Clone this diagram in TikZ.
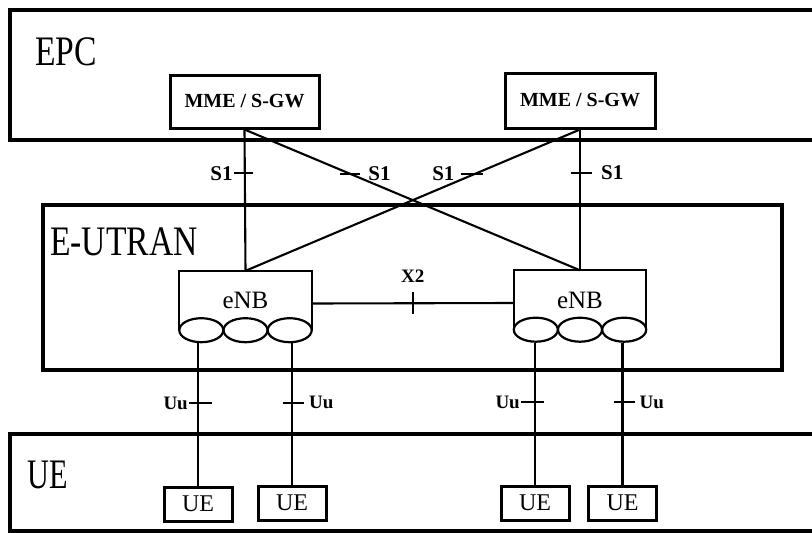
\documentclass[tikz,border=0pt]{standalone}
\usepackage{fontspec}
\setmainfont{Liberation Serif}
\newfontfamily\condfont[FakeStretch=0.8]{Liberation Serif}
\newfontfamily\uefont[FakeStretch=0.72]{Liberation Serif}
\usetikzlibrary{shapes.geometric,calc}
\begin{document}
\begin{tikzpicture}[x=1pt,y=-1pt,
  frame/.style={line width=3.2pt},
  regionlbl/.style={font=\condfont\fontsize{42}{42}\selectfont, inner sep=0pt, anchor=base west},
  mmebox/.style={draw, line width=3pt, minimum width=149pt, minimum height=53pt, inner sep=0pt, font=\bfseries\fontsize{20}{20}\selectfont},
  enbtop/.style={minimum width=132pt, minimum height=59pt, inner sep=0pt, font=\fontsize{25}{25}\selectfont},
  enbline/.style={line width=2.2pt},
  cell/.style={ellipse, draw, line width=2.2pt, minimum width=44pt, minimum height=24pt, inner sep=0pt},
  uebox/.style={draw, line width=3pt, minimum width=68pt, minimum height=34pt, inner sep=0pt, font=\fontsize{24}{24}\selectfont},
  conn/.style={line width=2.1pt},
  tickline/.style={line width=2.1pt},
  iflbl/.style={font=\bfseries\fontsize{21}{21}\selectfont, inner sep=0pt},
]
\useasboundingbox (0,0) rectangle (812,533);

% region frames
\draw[frame] (812,10) -- (10,10) -- (10,140) -- (812,140);
\draw[frame] (43,205) rectangle (782,370);
\draw[frame] (812,434) -- (10,434) -- (10,531) -- (812,531);

\node[regionlbl] (epcl) at (35,65) {EPC};
\node[regionlbl] (eutranl) at (50,255) {E-UTRAN};
\node[regionlbl, font=\uefont\fontsize{42}{42}\selectfont] (uel) at (27,488) {UE};

% MME / S-GW
\node[mmebox] (mmeL) at (244.5,101.5) {MME / S-GW};
\node[mmebox, minimum width=150pt, minimum height=55pt] (mmeR) at (580,100.5) {MME / S-GW};

% eNBs
\node[enbtop] (enbL) at (245.5,300.5) {eNB};
\node[enbtop] (enbR) at (580,300) {eNB};
\foreach \e in {enbL,enbR}{
  \draw[enbline] (\e.south west) -- (\e.north west) -- (\e.north east) -- (\e.south east);
}
\node[cell] (cL1) at ($(enbL.south west)+(22,0)$) {};
\node[cell] (cL2) at (enbL.south) {};
\node[cell] (cL3) at ($(enbL.south east)+(-22,0)$) {};
\node[cell] (cR1) at ($(enbR.south west)+(22,0)$) {};
\node[cell] (cR2) at (enbR.south) {};
\node[cell] (cR3) at ($(enbR.south east)+(-22,0)$) {};

% S1 connectors
\draw[conn] (mmeL.south) -- coordinate[pos=0.31] (tA) (enbL.north);
\draw[conn] (mmeL.south) -- coordinate[pos=0.315] (tB) (enbR.north);
\draw[conn] (mmeR.south) -- coordinate[pos=0.315] (tC) (enbL.north);
\draw[conn] (mmeR.south) -- coordinate[pos=0.31] (tD) (enbR.north);

\draw[tickline] ($(tA)+(-11,0)$) -- ($(tA)+(8,0)$);
\node[iflbl, anchor=east] (lA) at ($(tA)+(-12,0)$) {S1};
\draw[tickline] ($(tB)+(-10,0)$) -- ($(tB)+(10,0)$);
\node[iflbl, anchor=west] (lB) at ($(tB)+(18,0)$) {S1};
\draw[tickline] ($(tC)+(-14,0)$) -- ($(tC)+(8,0)$);
\node[iflbl, anchor=east] (lC) at ($(tC)+(-20,0)$) {S1};
\draw[tickline] ($(tD)+(-9,0)$) -- ($(tD)+(12,0)$);
\node[iflbl, anchor=west] (lD) at ($(tD)+(21,0)$) {S1};

% X2
\draw[conn] ($(enbL.east)+(0,3)$) -- coordinate[pos=0.5] (tX) ($(enbR.west)+(0,3)$);
\draw[tickline] ($(tX)+(0,-11)$) -- ($(tX)+(0,11)$);
\node[iflbl, anchor=south, font=\bfseries\fontsize{19}{19}\selectfont] (lX) at ($(tX)+(0,-21)$) {X2};

% UEs
\node[uebox] (ue1) at (198,504) {UE};
\node[uebox] (ue2) at (292,503) {UE};
\node[uebox] (ue3) at (535,503) {UE};
\node[uebox] (ue4) at (622.5,503) {UE};

% Uu connectors
\draw[conn] (cL1.south -| ue1.north) -- coordinate[pos=0.42] (u1) (ue1.north);
\draw[conn] (cL3.south -| ue2.north) -- coordinate[pos=0.42] (u2) (ue2.north);
\draw[conn] (cR1.south -| ue3.north) -- coordinate[pos=0.42] (u3) (ue3.north);
\draw[conn] (cR3.south -| ue4.north) -- coordinate[pos=0.42] (u4) (ue4.north);

\draw[tickline] ($(u1)+(-9,0)$) -- ($(u1)+(14,0)$);
\node[iflbl, anchor=east, font=\bfseries\fontsize{19}{19}\selectfont] (lu1) at ($(u1)+(-10,0)$) {Uu};
\draw[tickline] ($(u2)+(-9,0)$) -- ($(u2)+(12,0)$);
\node[iflbl, anchor=west, font=\bfseries\fontsize{19}{19}\selectfont] (lu2) at ($(u2)+(17,0)$) {Uu};
\draw[tickline] ($(u3)+(-14,0)$) -- ($(u3)+(9,0)$);
\node[iflbl, anchor=east, font=\bfseries\fontsize{19}{19}\selectfont] (lu3) at ($(u3)+(-15,0)$) {Uu};
\draw[tickline] ($(u4)+(-9,0)$) -- ($(u4)+(12,0)$);
\node[iflbl, anchor=west, font=\bfseries\fontsize{19}{19}\selectfont] (lu4) at ($(u4)+(17,0)$) {Uu};
\end{tikzpicture}
\end{document}
